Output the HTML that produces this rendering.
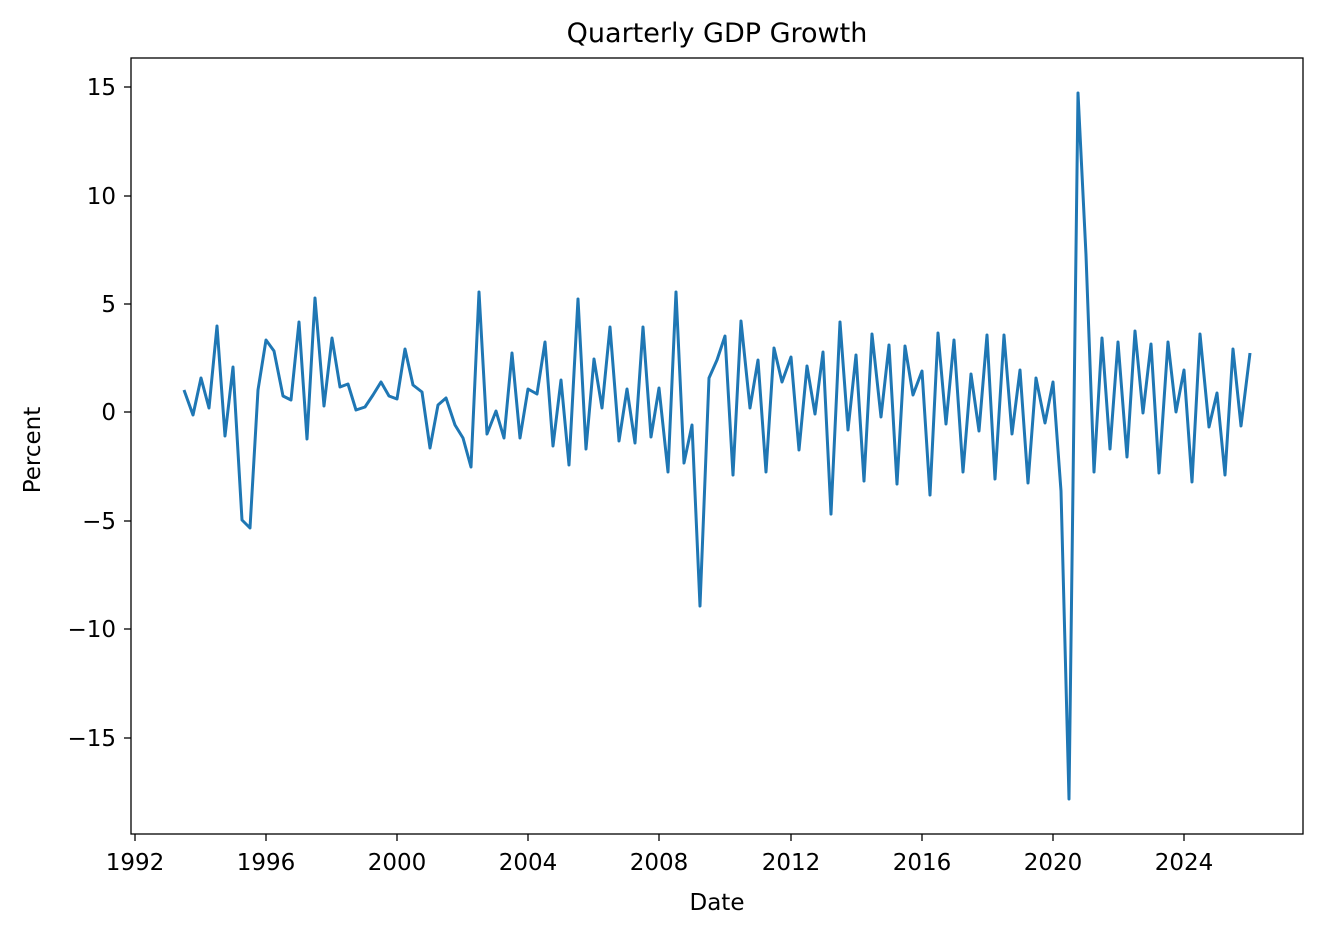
<!DOCTYPE html>
<html><head><meta charset="utf-8"><style>
html,body{margin:0;padding:0;background:#fff;}
svg{display:block;font-family:"DejaVu Sans","Liberation Sans",sans-serif;}
</style></head><body>
<svg width="1322" height="936" viewBox="0 0 1322 936" xmlns="http://www.w3.org/2000/svg">
<rect width="1322" height="936" fill="#fff"/>
<text x="717" y="42" font-size="27" text-anchor="middle" fill="#000">Quarterly GDP Growth</text>
<g font-size="23" fill="#000" text-anchor="end">
<line x1="124" y1="87" x2="131" y2="87" stroke="#000" stroke-width="1.3"/><text x="116" y="95">15</text>
<line x1="124" y1="196" x2="131" y2="196" stroke="#000" stroke-width="1.3"/><text x="116" y="204">10</text>
<line x1="124" y1="304" x2="131" y2="304" stroke="#000" stroke-width="1.3"/><text x="116" y="312">5</text>
<line x1="124" y1="412" x2="131" y2="412" stroke="#000" stroke-width="1.3"/><text x="116" y="420">0</text>
<line x1="124" y1="521" x2="131" y2="521" stroke="#000" stroke-width="1.3"/><text x="116" y="529">−5</text>
<line x1="124" y1="629" x2="131" y2="629" stroke="#000" stroke-width="1.3"/><text x="116" y="637">−10</text>
<line x1="124" y1="738" x2="131" y2="738" stroke="#000" stroke-width="1.3"/><text x="116" y="746">−15</text>
</g>
<g font-size="23" fill="#000" text-anchor="middle" stroke-width="1.3">
<line x1="135" y1="834" x2="135" y2="841" stroke="#000"/><text x="135" y="870">1992</text>
<line x1="266" y1="834" x2="266" y2="841" stroke="#000"/><text x="266" y="870">1996</text>
<line x1="397" y1="834" x2="397" y2="841" stroke="#000"/><text x="397" y="870">2000</text>
<line x1="528" y1="834" x2="528" y2="841" stroke="#000"/><text x="528" y="870">2004</text>
<line x1="659" y1="834" x2="659" y2="841" stroke="#000"/><text x="659" y="870">2008</text>
<line x1="791" y1="834" x2="791" y2="841" stroke="#000"/><text x="791" y="870">2012</text>
<line x1="922" y1="834" x2="922" y2="841" stroke="#000"/><text x="922" y="870">2016</text>
<line x1="1053" y1="834" x2="1053" y2="841" stroke="#000"/><text x="1053" y="870">2020</text>
<line x1="1184" y1="834" x2="1184" y2="841" stroke="#000"/><text x="1184" y="870">2024</text>
</g>
<text x="717" y="910" font-size="23" text-anchor="middle" fill="#000">Date</text>
<text transform="translate(40,450) rotate(-90)" font-size="23" text-anchor="middle" fill="#000">Percent</text>
<polyline fill="none" stroke="#1f77b4" stroke-width="3" stroke-linejoin="round" points="184,390 193,415 201,378 209,408 217,326 225,436 233,367 242,520 250,528 258,390 266,340 274,351 283,396 291,400 299,322 307,439 315,298 324,406 332,338 340,387 348,384 356,410 365,407 373,395 381,382 389,396 397,399 405,349 413,385 422,392 430,448 438,405 446,398 455,425 463,438 471,467 479,292 487,434 496,411 504,438 512,353 520,438 528,389 537,394 545,342 553,446 561,380 569,465 578,299 586,449 594,359 602,408 610,327 619,441 627,389 635,443 643,327 651,437 659,388 668,472 676,292 684,463 692,425 700,606 709,378 717,360 725,336 733,475 741,321 750,408 758,360 766,472 774,348 782,382 791,357 799,450 807,366 815,414 823,352 831,514 840,322 848,430 856,355 864,481 872,334 881,417 889,345 897,484 905,346 913,395 922,371 930,495 938,333 946,424 954,340 963,472 971,374 979,431 987,335 995,479 1004,335 1012,434 1020,370 1028,483 1036,378 1045,423 1053,382 1061,491 1069,799 1078,93 1086,255 1094,472 1102,338 1110,449 1118,342 1127,457 1135,331 1143,413 1151,344 1159,473 1168,342 1176,412 1184,370 1192,482 1200,334 1209,427 1217,393 1225,475 1233,349 1241,426 1250,353"/>
<rect x="131" y="58" width="1172" height="776" fill="none" stroke="#000" stroke-width="1.3"/>
</svg>
</body></html>
